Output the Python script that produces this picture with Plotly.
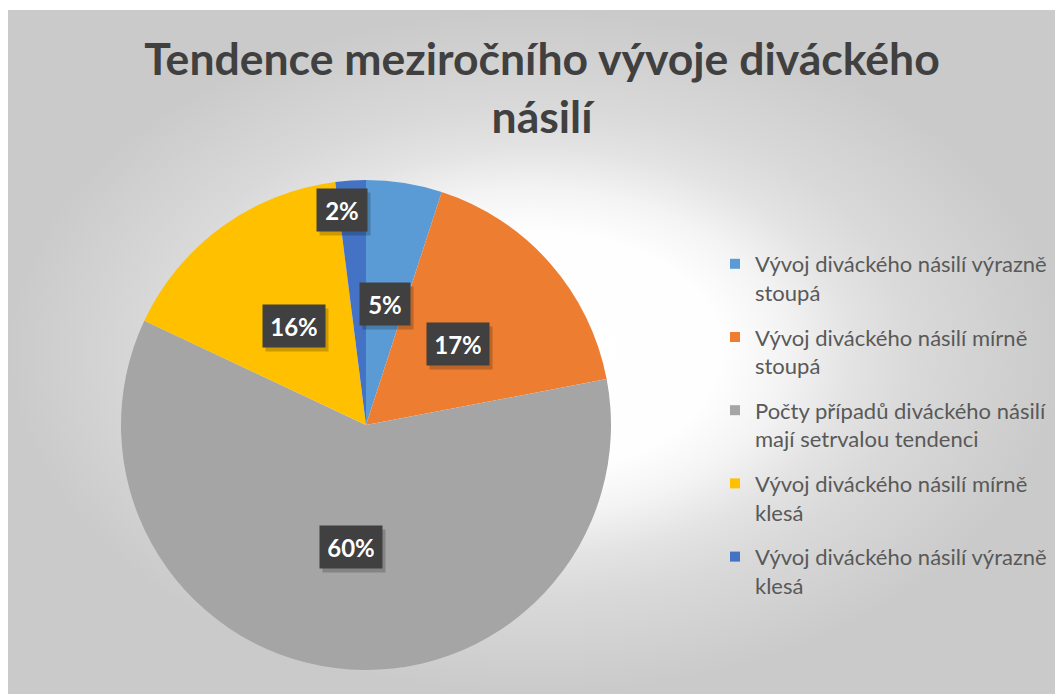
import math
import plotly.graph_objects as go

# ---- data ----
labels = [
    "Vývoj diváckého násilí výrazně<br>stoupá",
    "Vývoj diváckého násilí mírně<br>stoupá",
    "Počty případů diváckého násilí<br>mají setrvalou tendenci",
    "Vývoj diváckého násilí mírně<br>klesá",
    "Vývoj diváckého násilí výrazně<br>klesá",
]
values = [5, 17, 60, 16, 2]
colors = ["#5B9BD5", "#ED7D31", "#A5A5A5", "#FFC000", "#4472C4"]
title_text = "Tendence meziročního vývoje diváckého<br>násilí"

# ---- layout geometry (page pixels; the html body adds an 8px margin) ----
OFF = 8
W, H = 1063 - OFF, 694 - OFF
CX, CY, R = 366 - OFF, 425 - OFF, 245
FONT = "Lato"

dom_x = [(CX - R) / W, (CX + R) / W]
dom_y = [1 - (CY + R) / H, 1 - (CY - R) / H]

fig = go.Figure()

# background chart area with radial gradient
fig.add_trace(go.Scatter(
    x=[0, 1, 1, 0, 0], y=[0, 0, 1, 1, 0],
    mode="lines", line=dict(width=0), fill="toself",
    fillgradient=dict(type="radial",
                      colorscale=[[0, "#ffffff"], [0.35, "#fefefe"], [0.47, "#f4f4f4"],
                                  [0.6, "#e3e3e3"], [0.72, "#d9d9d9"], [1, "#cacaca"]]),
    hoverinfo="skip", showlegend=False,
))

fig.add_trace(go.Pie(
    labels=labels, values=values, sort=False, direction="clockwise", rotation=0,
    marker=dict(colors=colors, line=dict(width=0)),
    textinfo="none", domain=dict(x=dom_x, y=dom_y), hoverinfo="label+percent",
    showlegend=False,
))

# legend entries (one per slice, separate groups for spacing)
for i, (lab, col) in enumerate(zip(labels, colors)):
    fig.add_trace(go.Scatter(
        x=[None], y=[None], mode="markers", name=lab, legendgroup=f"g{i}",
        marker=dict(symbol="square", size=10, color=col), showlegend=True,
    ))

# data labels as dark boxes with a soft shadow
total = sum(values)
annotations = []
cum = 0
for v in values:
    frac = v / total
    mid = (cum + frac / 2) * 2 * math.pi
    cum += frac
    rf = 0.5 if frac >= 0.03 else 0.88
    px = CX + rf * R * math.sin(mid) - (10 if frac < 0.03 else 0)
    py = CY - rf * R * math.cos(mid)
    label = f"{round(frac * 100)}%"
    bw = 34 if len(label) <= 2 else 46
    common = dict(x=px / W, y=1 - py / H, xref="paper", yref="paper",
                  xanchor="center", yanchor="middle", width=bw, height=26,
                  showarrow=False, borderpad=8)
    annotations.append(dict(common, text="&nbsp;", xshift=3, yshift=-4,
                            bgcolor="rgba(0,0,0,0.2)",
                            font=dict(family=FONT, size=24, color="rgba(0,0,0,0)")))
    annotations.append(dict(common, text=f"<b>{label}</b>", bgcolor="#404040",
                            font=dict(family=FONT, size=24, color="#ffffff")))

fig.update_layout(
    width=W, height=H,
    margin=dict(l=0, r=0, t=0, b=0),
    paper_bgcolor="#ffffff", plot_bgcolor="rgba(0,0,0,0)",
    xaxis=dict(domain=[0, 1], range=[0, 1], visible=False, fixedrange=True),
    yaxis=dict(domain=[0, 1 - 2 / H], range=[0, 1], visible=False, fixedrange=True),
    title=dict(text=title_text, x=(542 - OFF) / W, xanchor="center", y=1 - 67 / H, yanchor="top",
               font=dict(family=FONT, size=44.5, color="#404040", weight=700)),
    legend=dict(x=(715 - OFF) / W, y=1 - (243 - OFF) / H, xanchor="left", yanchor="top",
                font=dict(family=FONT, size=22, color="#595959"), valign="top",
                tracegroupgap=13, bgcolor="rgba(0,0,0,0)", itemwidth=30),
    annotations=annotations,
    showlegend=True,
)

fig.write_html("out.html")
